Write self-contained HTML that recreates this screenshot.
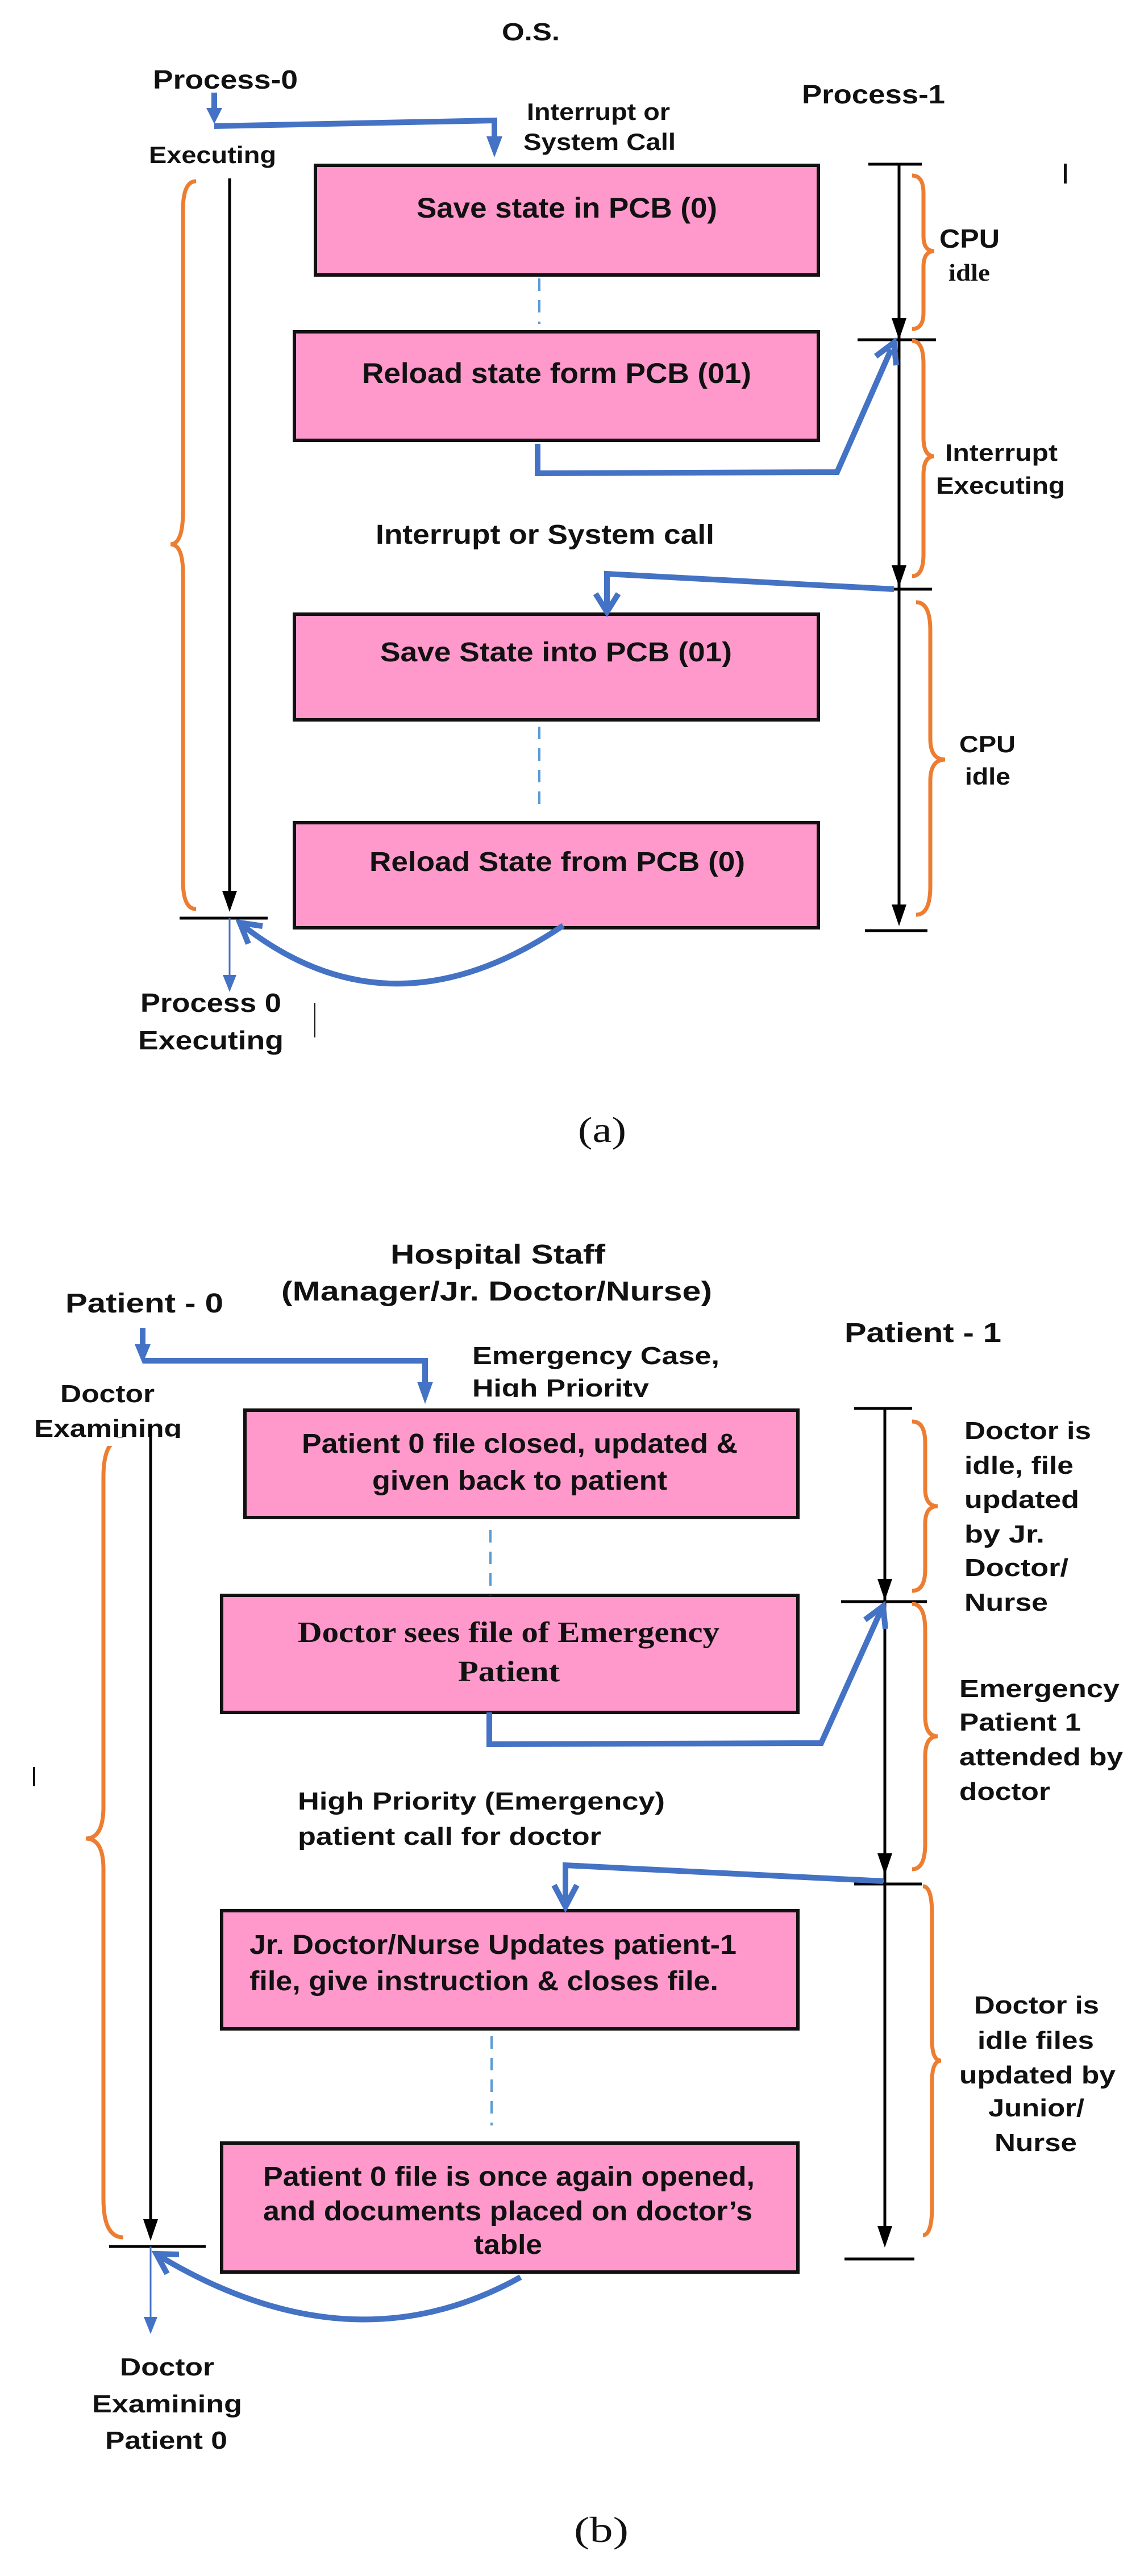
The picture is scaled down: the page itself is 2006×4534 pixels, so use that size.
<!DOCTYPE html>
<html><head><meta charset="utf-8"><style>
html,body{margin:0;padding:0;background:#fff;}
svg{display:block;}
text{font-family:"Liberation Sans",Arial,sans-serif;font-weight:bold;fill:#111;}
.s{font-family:"Liberation Serif",serif;}
.box{fill:#FF99CC;stroke:#111;stroke-width:6;}
.bk{stroke:#000;stroke-width:5;fill:none;}
.bl{stroke:#4472C4;stroke-width:10;fill:none;stroke-linejoin:miter;}
.or{stroke:#ED7D31;stroke-width:7;fill:none;}
.dash{stroke:#5B9BD5;stroke-width:4;stroke-dasharray:22,16;fill:none;}
</style></head><body>
<svg width="2006" height="4534" viewBox="0 0 2006 4534" xmlns="http://www.w3.org/2000/svg">
<rect width="2006" height="4534" fill="#fff"/>

<!-- ========== (a) ========== -->
<rect class="box" x="555" y="291" width="885" height="193"/>
<rect class="box" x="518" y="584" width="922" height="191"/>
<rect class="box" x="518" y="1081" width="922" height="186"/>
<rect class="box" x="518" y="1448" width="922" height="185"/>
<line class="dash" x1="949" y1="490" x2="949" y2="570"/>
<line class="dash" x1="949" y1="1279" x2="949" y2="1425"/>

<line class="bk" x1="404" y1="314" x2="404" y2="1570"/>
<polygon points="391,1568 417,1568 404,1605" fill="#000"/>
<line class="bk" x1="316" y1="1616" x2="471" y2="1616" stroke-width="4"/>

<line class="bk" x1="1528" y1="289" x2="1622" y2="289"/>
<line class="bk" x1="1582" y1="289" x2="1582" y2="1600"/>
<polygon points="1569,560 1595,560 1582,598" fill="#000"/>
<polygon points="1569,995 1595,995 1582,1033" fill="#000"/>
<polygon points="1569,1592 1595,1592 1582,1630" fill="#000"/>
<line class="bk" x1="1509" y1="598" x2="1647" y2="598" stroke-width="4"/>
<line class="bk" x1="1532" y1="1037" x2="1640" y2="1037" stroke-width="4"/>
<line class="bk" x1="1522" y1="1638" x2="1632" y2="1638" stroke-width="4"/>

<path class="or" d="M345,319 Q322,319 322,370 L322,900 Q322,958 300,958 Q322,958 322,1010 L322,1550 Q322,1600 345,1600"/>
<path class="or" d="M1605,309 Q1625,309 1625,340 L1625,415 Q1625,442 1644,442 Q1625,442 1625,470 L1625,550 Q1625,579 1605,579"/>
<path class="or" d="M1605,600 Q1625,600 1625,640 L1625,770 Q1625,803 1644,803 Q1625,803 1625,836 L1625,975 Q1625,1014 1605,1014"/>
<path class="or" d="M1612,1060 Q1637,1060 1637,1110 L1637,1300 Q1637,1337 1663,1337 Q1637,1337 1637,1375 L1637,1560 Q1637,1610 1612,1610"/>

<line class="bl" x1="377" y1="163" x2="377" y2="200"/>
<polygon points="363,190 391,190 377,218" fill="#4472C4"/>
<polyline class="bl" points="377,222 870,212 870,250"/>
<polygon points="856,240 884,240 870,277" fill="#4472C4"/>
<polyline class="bl" points="946,781 946,833 1473,831 1568,615"/>
<polyline class="bl" points="1541,627 1573,603 1577,643" stroke-width="9"/>
<polyline class="bl" points="1573,1037 1068,1010 1068,1072"/>
<polyline class="bl" points="1048,1045 1068,1077 1088,1045" stroke-width="9"/>
<path class="bl" d="M991,1629 Q688,1834 426,1628"/>
<polyline class="bl" points="437,1661 422,1624 462,1630" stroke-width="9"/>
<line x1="404" y1="1616" x2="404" y2="1720" stroke="#4472C4" stroke-width="3"/>
<polygon points="392,1716 416,1716 404,1746" fill="#4472C4"/>

<rect x="1872" y="288" width="5" height="35" fill="#111"/>
<line x1="554" y1="1765" x2="554" y2="1826" stroke="#111" stroke-width="2"/>

<text x="883" y="71" font-size="44" textLength="102" lengthAdjust="spacingAndGlyphs">O.S.</text>
<text x="269" y="156" font-size="46" textLength="255" lengthAdjust="spacingAndGlyphs">Process-0</text>
<text x="1411" y="182" font-size="46" textLength="252" lengthAdjust="spacingAndGlyphs">Process-1</text>
<text x="927" y="211" font-size="42" textLength="252" lengthAdjust="spacingAndGlyphs">Interrupt or</text>
<text x="921" y="264" font-size="42" textLength="268" lengthAdjust="spacingAndGlyphs">System Call</text>
<text x="262" y="287" font-size="42" textLength="224" lengthAdjust="spacingAndGlyphs">Executing</text>
<text x="733" y="383" font-size="50" textLength="529" lengthAdjust="spacingAndGlyphs">Save state in PCB (0)</text>
<text x="637" y="674" font-size="50" textLength="685" lengthAdjust="spacingAndGlyphs">Reload state form PCB (01)</text>
<text x="1653" y="436" font-size="46" textLength="106" lengthAdjust="spacingAndGlyphs">CPU</text>
<text class="s" x="1669" y="494" font-size="42" textLength="73" lengthAdjust="spacingAndGlyphs">idle</text>
<text x="1663" y="811" font-size="42" textLength="198" lengthAdjust="spacingAndGlyphs">Interrupt</text>
<text x="1647" y="869" font-size="42" textLength="227" lengthAdjust="spacingAndGlyphs">Executing</text>
<text x="661" y="957" font-size="48" textLength="596" lengthAdjust="spacingAndGlyphs">Interrupt or System call</text>
<text x="669" y="1164" font-size="48" textLength="619" lengthAdjust="spacingAndGlyphs">Save State into PCB (01)</text>
<text x="1688" y="1324" font-size="42" textLength="99" lengthAdjust="spacingAndGlyphs">CPU</text>
<text x="1698" y="1381" font-size="42" textLength="80" lengthAdjust="spacingAndGlyphs">idle</text>
<text x="650" y="1533" font-size="48" textLength="661" lengthAdjust="spacingAndGlyphs">Reload State from PCB (0)</text>
<text x="247" y="1781" font-size="46" textLength="248" lengthAdjust="spacingAndGlyphs">Process 0</text>
<text x="243" y="1847" font-size="46" textLength="256" lengthAdjust="spacingAndGlyphs">Executing</text>
<text class="s" x="1017" y="2010" font-size="64" textLength="85" lengthAdjust="spacingAndGlyphs" style="font-weight:normal">(a)</text>

<!-- ========== (b) ========== -->
<rect class="box" x="431" y="2482" width="973" height="189"/>
<rect class="box" x="390" y="2808" width="1014" height="206"/>
<rect class="box" x="390" y="3363" width="1014" height="208"/>
<rect class="box" x="390" y="3772" width="1014" height="227"/>
<line class="dash" x1="863" y1="2693" x2="863" y2="2808"/>
<line class="dash" x1="865" y1="3584" x2="865" y2="3741"/>

<line class="bk" x1="265" y1="2513" x2="265" y2="3910"/>
<polygon points="252,3906 278,3906 265,3944" fill="#000"/>
<line class="bk" x1="192" y1="3954" x2="362" y2="3954" stroke-width="4"/>

<line class="bk" x1="1503" y1="2479" x2="1605" y2="2479"/>
<line class="bk" x1="1557" y1="2479" x2="1557" y2="3925"/>
<polygon points="1544,2779 1570,2779 1557,2817" fill="#000"/>
<polygon points="1544,3262 1570,3262 1557,3300" fill="#000"/>
<polygon points="1544,3918 1570,3918 1557,3956" fill="#000"/>
<line class="bk" x1="1480" y1="2819" x2="1631" y2="2819" stroke-width="4"/>
<line class="bk" x1="1503" y1="3316" x2="1622" y2="3316" stroke-width="4"/>
<line class="bk" x1="1486" y1="3976" x2="1609" y2="3976" stroke-width="4"/>

<path class="or" d="M217,2532 Q182,2532 182,2600 L182,3180 Q182,3236 151,3236 Q182,3236 182,3290 L182,3870 Q182,3938 217,3938"/>
<path class="or" d="M1605,2502 Q1628,2502 1628,2540 L1628,2620 Q1628,2651 1650,2651 Q1628,2651 1628,2682 L1628,2762 Q1628,2800 1605,2800"/>
<path class="or" d="M1605,2823 Q1628,2823 1628,2870 L1628,3020 Q1628,3056 1650,3056 Q1628,3056 1628,3092 L1628,3245 Q1628,3290 1605,3290"/>
<path class="or" d="M1624,3320 Q1640,3320 1640,3370 L1640,3590 Q1640,3627 1656,3627 Q1640,3627 1640,3664 L1640,3884 Q1640,3934 1624,3934"/>

<line class="bl" x1="251" y1="2337" x2="251" y2="2372"/>
<polygon points="237,2366 265,2366 251,2400" fill="#4472C4"/>
<polyline class="bl" points="251,2395 748,2395 748,2440"/>
<polygon points="734,2432 762,2432 748,2471" fill="#4472C4"/>
<polyline class="bl" points="861,3014 861,3070 1445,3068 1550,2835"/>
<polyline class="bl" points="1522,2851 1554,2827 1558,2867" stroke-width="9"/>
<polyline class="bl" points="1554,3311 995,3283 995,3350"/>
<polyline class="bl" points="975,3318 995,3356 1015,3318" stroke-width="9"/>
<path class="bl" d="M916,4008 Q618,4174 279,3970"/>
<polyline class="bl" points="294,4002 275,3967 315,3968" stroke-width="9"/>
<line x1="265" y1="3954" x2="265" y2="4082" stroke="#4472C4" stroke-width="3"/>
<polygon points="253,4078 277,4078 265,4108" fill="#4472C4"/>

<rect x="58" y="3110" width="4" height="34" fill="#111"/>

<text x="687" y="2224" font-size="48" textLength="378" lengthAdjust="spacingAndGlyphs">Hospital Staff</text>
<text x="495" y="2289" font-size="48" textLength="758" lengthAdjust="spacingAndGlyphs">(Manager/Jr. Doctor/Nurse)</text>
<text x="115" y="2310" font-size="48" textLength="278" lengthAdjust="spacingAndGlyphs">Patient - 0</text>
<text x="1486" y="2362" font-size="48" textLength="276" lengthAdjust="spacingAndGlyphs">Patient - 1</text>
<text x="831" y="2401" font-size="44" textLength="435" lengthAdjust="spacingAndGlyphs">Emergency Case,</text>
<text x="831" y="2458" font-size="44" textLength="311" lengthAdjust="spacingAndGlyphs">High Priority</text>
<rect x="820" y="2459" width="360" height="20" fill="#fff"/>
<text x="106" y="2468" font-size="44" textLength="166" lengthAdjust="spacingAndGlyphs">Doctor</text>
<text x="60" y="2529" font-size="44" textLength="260" lengthAdjust="spacingAndGlyphs">Examining</text>
<rect x="55" y="2531" width="270" height="14" fill="#fff"/>
<line class="bk" x1="265" y1="2510" x2="265" y2="2550"/>

<text x="531" y="2557" font-size="48" textLength="767" lengthAdjust="spacingAndGlyphs">Patient 0 file closed, updated &amp;</text>
<text x="655" y="2622" font-size="48" textLength="519" lengthAdjust="spacingAndGlyphs">given back to patient</text>
<text class="s" x="524" y="2890" font-size="52" textLength="742" lengthAdjust="spacingAndGlyphs">Doctor sees file of Emergency</text>
<text class="s" x="806" y="2959" font-size="52" textLength="179" lengthAdjust="spacingAndGlyphs">Patient</text>

<g font-size="44">
<text x="1697" y="2533" textLength="223" lengthAdjust="spacingAndGlyphs">Doctor is</text>
<text x="1697" y="2594" textLength="192" lengthAdjust="spacingAndGlyphs">idle, file</text>
<text x="1697" y="2654" textLength="202" lengthAdjust="spacingAndGlyphs">updated</text>
<text x="1697" y="2715" textLength="141" lengthAdjust="spacingAndGlyphs">by Jr.</text>
<text x="1697" y="2774" textLength="183" lengthAdjust="spacingAndGlyphs">Doctor/</text>
<text x="1697" y="2835" textLength="147" lengthAdjust="spacingAndGlyphs">Nurse</text>
<text x="1688" y="2987" textLength="282" lengthAdjust="spacingAndGlyphs">Emergency</text>
<text x="1688" y="3046" textLength="214" lengthAdjust="spacingAndGlyphs">Patient 1</text>
<text x="1688" y="3107" textLength="288" lengthAdjust="spacingAndGlyphs">attended by</text>
<text x="1688" y="3168" textLength="160" lengthAdjust="spacingAndGlyphs">doctor</text>
<text x="524" y="3185" textLength="646" lengthAdjust="spacingAndGlyphs">High Priority (Emergency)</text>
<text x="524" y="3247" textLength="534" lengthAdjust="spacingAndGlyphs">patient call for doctor</text>
<text x="1714" y="3544" textLength="220" lengthAdjust="spacingAndGlyphs">Doctor is</text>
<text x="1720" y="3606" textLength="205" lengthAdjust="spacingAndGlyphs">idle files</text>
<text x="1688" y="3667" textLength="275" lengthAdjust="spacingAndGlyphs">updated by</text>
<text x="1739" y="3725" textLength="169" lengthAdjust="spacingAndGlyphs">Junior/</text>
<text x="1750" y="3786" textLength="145" lengthAdjust="spacingAndGlyphs">Nurse</text>
<text x="211" y="4181" textLength="166" lengthAdjust="spacingAndGlyphs">Doctor</text>
<text x="162" y="4246" textLength="264" lengthAdjust="spacingAndGlyphs">Examining</text>
<text x="185" y="4310" textLength="215" lengthAdjust="spacingAndGlyphs">Patient 0</text>
</g>

<text x="439" y="3439" font-size="48" textLength="857" lengthAdjust="spacingAndGlyphs">Jr. Doctor/Nurse Updates patient-1</text>
<text x="439" y="3503" font-size="48" textLength="825" lengthAdjust="spacingAndGlyphs">file, give instruction &amp; closes file.</text>
<text x="463" y="3847" font-size="48" textLength="865" lengthAdjust="spacingAndGlyphs">Patient 0 file is once again opened,</text>
<text x="463" y="3908" font-size="48" textLength="861" lengthAdjust="spacingAndGlyphs">and documents placed on doctor’s</text>
<text x="834" y="3967" font-size="48" textLength="120" lengthAdjust="spacingAndGlyphs">table</text>

<text class="s" x="1010" y="4474" font-size="64" textLength="96" lengthAdjust="spacingAndGlyphs" style="font-weight:normal">(b)</text>
</svg>
</body></html>
